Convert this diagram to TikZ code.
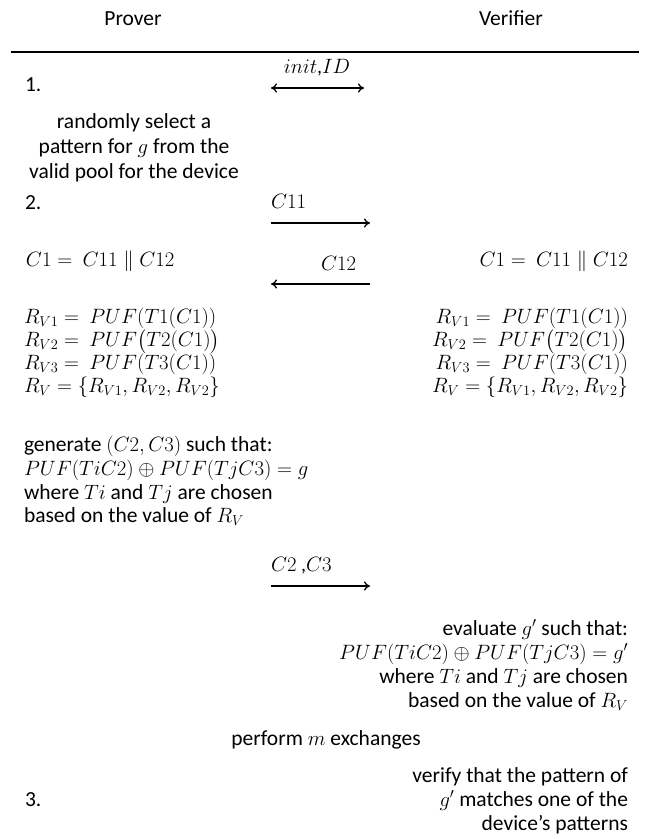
\documentclass[tikz,border=0pt]{standalone}
\usepackage{fontspec}
\setmainfont{Carlito}
\usepackage{amsmath,amssymb}
\usetikzlibrary{arrows.meta}
\newcommand\tightlines{\lineskiplimit=-100pt\relax\lineskip=0pt\relax}
\tikzset{
  txt/.style={inner sep=0pt, outer sep=0pt, font=\fontsize{21.5}{26}\selectfont},
  mth/.style={inner sep=0pt, outer sep=0pt, font=\fontsize{20}{24}\selectfont},
  blk/.style={inner sep=0pt, outer sep=0pt, font={\fontsize{20}{23}\selectfont\tightlines}},
  msg/.style={line width=1.3pt, -{To[length=6pt,width=9pt]}},
  dmsg/.style={line width=1.3pt, {To[length=6pt,width=9pt]}-{To[length=6pt,width=9pt]}},
}
\begin{document}
\begin{tikzpicture}[x=1pt,y=-1pt]
\useasboundingbox (0,0) rectangle (649,839);
% headers
\node[txt,anchor=base] (prover) at (133,25) {Prover};
\node[txt,anchor=base] (verifier) at (511,25) {Verifier};
\coordinate (rl) at (11,52);
\coordinate (rr) at (639,52);
\draw[line width=1.1pt] (rl) -- (rr);
% step 1
\node[txt,anchor=base west] (s1) at (25,91) {1.};
\node[mth,anchor=base] (initid) at (317,73) {$init$,$ID$};
\coordinate (a1l) at (271,88);
\coordinate (a1r) at (364,88);
\draw[dmsg] (a1l) -- (a1r);
\node[txt,anchor=base] (r1) at (134,128) {randomly select a};
\node[txt,anchor=base] (r2) at (134,153) {pattern for $g$ from the};
\node[txt,anchor=base] (r3) at (134,178) {valid pool for the device};
% step 2
\node[txt,anchor=base west] (s2) at (25,209) {2.};
\node[mth,anchor=base west] (c11) at (271,208) {$C11$};
\coordinate (a2l) at (271,223);
\coordinate (a2r) at (370,223);
\draw[msg] (a2l) -- (a2r);
\node[mth,anchor=base west] (c1l) at (26,266) {$C1 =\ C11 \parallel C12$};
\node[mth,anchor=base east] (c1r) at (628,266) {$C1 =\ C11 \parallel C12$};
\node[mth,anchor=base west] (c12) at (321,270) {$C12$};
\coordinate (a3l) at (271,284);
\coordinate (a3r) at (370,284);
\draw[msg] (a3r) -- (a3l);
% R values prover
\node[blk,align=left,anchor=north west] (pl) at (24,308)
  {$R_{V1} =\ PUF(T1(C1))$\\
   $R_{V2} =\ PUF\bigl(T2(C1)\bigr)$\\
   $R_{V3} =\ PUF(T3(C1))$\\
   $R_{V} = \{R_{V1},R_{V2},R_{V2}\}$};
% R values verifier
\node[blk,align=right,anchor=north east] (vr) at (628,308)
  {$R_{V1} =\ PUF(T1(C1))$\\
   $R_{V2} =\ PUF\bigl(T2(C1)\bigr)$\\
   $R_{V3} =\ PUF(T3(C1))$\\
   $R_{V} = \{R_{V1},R_{V2},R_{V2}\}$};
% generate
\node[txt,anchor=base west] (g1) at (24,451) {generate {\fontsize{20}{24}\selectfont$(C2,C3)$} such that:};
\node[mth,anchor=base west] (g2) at (24,475) {$PUF(TiC2) \oplus PUF(TjC3) = g$};
\node[txt,anchor=base west] (g3) at (24,499) {where {\fontsize{20}{24}\selectfont$Ti$} and {\fontsize{20}{24}\selectfont$Tj$} are chosen};
\node[txt,anchor=base west] (g4) at (24,522) {based on the value of {\fontsize{20}{24}\selectfont$R_V$}};
% C2,C3
\node[mth,anchor=base west] (c23) at (271,571) {$C2$ ,$C3$};
\coordinate (a4l) at (271,586);
\coordinate (a4r) at (370,586);
\draw[msg] (a4l) -- (a4r);
% evaluate
\node[txt,anchor=base east] (e1) at (628,635) {evaluate {\fontsize{20}{24}\selectfont$g'$} such that:};
\node[mth,anchor=base east] (e2) at (628,659) {$PUF(TiC2) \oplus PUF(TjC3) = g'$};
\node[txt,anchor=base east] (e3) at (628,683) {where {\fontsize{20}{24}\selectfont$Ti$} and {\fontsize{20}{24}\selectfont$Tj$} are chosen};
\node[txt,anchor=base east] (e4) at (628,707) {based on the value of {\fontsize{20}{24}\selectfont$R_V$}};
% perform
\node[txt,anchor=base] (perf) at (326,745) {perform {\fontsize{20}{24}\selectfont$m$} exchanges};
% step 3
\node[txt,anchor=base west] (s3) at (25,806) {3.};
\node[txt,anchor=base east] (v1) at (628,782) {verify that the pattern of};
\node[txt,anchor=base east] (v2) at (628,806) {{\fontsize{20}{24}\selectfont$g'$} matches one of the};
\node[txt,anchor=base east] (v3) at (628,830) {device’s patterns};
\end{tikzpicture}
\end{document}
